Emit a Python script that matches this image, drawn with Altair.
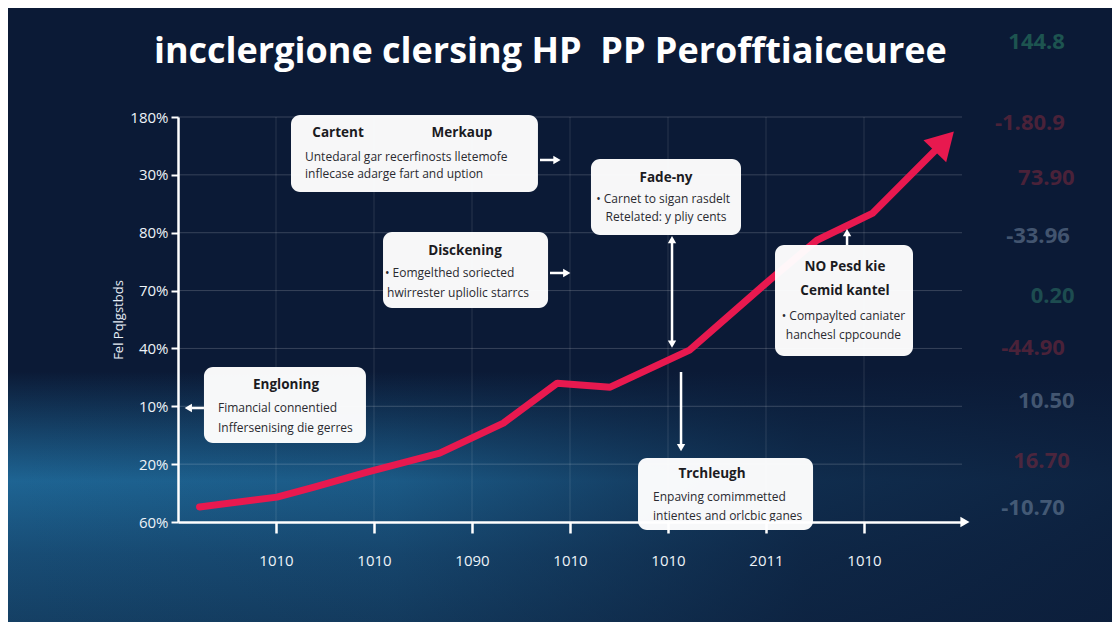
import json
import altair as alt
import pandas as pd

# ---------------- data ----------------
title_text = "incclergione clersing HP\u00a0\u00a0PP Perofftiaiceuree"
y_axis_title = "Fel Pqlgstbds"
y_tick_values = [0, 1, 2, 3, 4, 5, 6, 7]
y_tick_labels = ["60%", "20%", "10%", "40%", "70%", "80%", "30%", "180%"]
x_tick_values = [1, 2, 3, 4, 5, 6, 7]
x_tick_labels = ["1010", "1010", "1090", "1010", "1010", "2011", "1010"]

trend_x = [0.22, 1.01, 1.38, 1.93, 2.67, 3.32, 3.87, 4.41, 5.22, 6.07, 6.52, 7.09, 7.82]
trend_y = [0.26, 0.43, 0.60, 0.86, 1.19, 1.71, 2.40, 2.33, 2.97, 4.23, 4.87, 5.34, 6.58]

# annotation boxes (data coordinates)
box_x1 = [1.153, 4.214, 2.092, 6.092, 0.265, 4.694]
box_x2 = [3.673, 5.745, 3.776, 7.500, 1.918, 6.480]
box_y1 = [7.034, 6.274, 5.012, 4.788, 2.679, 1.106]
box_y2 = [5.704, 4.961, 3.699, 2.869, 1.365, -0.138]

# box headings (bold, centred)
head_text = ["Cartent", "Merkaup", "Fade-ny", "Disckening", "NO Pesd kie", "Cemid kantel", "Engloning", "Trchleugh"]
head_x = [1.633, 2.898, 4.980, 2.929, 6.806, 6.806, 1.102, 5.449]
head_y = [6.724, 6.724, 5.946, 4.684, 4.407, 3.993, 2.368, 0.830]

# body lines, centred
bodyc_text = ["\u2022 Carnet to sigan rasdelt", "Retelated: y pliy cents",
              "\u2022 Compaylted caniater", "hanchesl cppcounde"]
bodyc_x = [4.950, 4.980, 6.790, 6.790]
bodyc_y = [5.583, 5.272, 3.561, 3.232]

# body lines, left aligned
bodyl_text = ["Untedaral gar recerfinosts lletemofe", "inflecase adarge fart and uption",
              "\u2022 Eomgelthed soriected", "hwirrester upliolic starrcs",
              "Fimancial connentied", "Inffersenising die gerres",
              "Enpaving comimmetted", "intientes and orlcbic ganes"]
bodyl_x = [1.296, 1.296, 2.112, 2.133, 0.408, 0.408, 4.847, 4.847]
bodyl_y = [6.309, 6.015, 4.304, 3.958, 1.970, 1.625, 0.432, 0.104]

# white connector arrows
arr_x1 = [3.694, 3.796, 0.265, 5.041, 5.133, 6.827]
arr_x2 = [3.840, 3.940, 0.140, 5.041, 5.133, 6.827]
arr_y1 = [6.257, 4.304, 1.970, 4.830, 2.593, 4.788]
arr_y2 = [6.257, 4.304, 1.970, 3.110, 1.330, 4.960]
head_px = [3.867, 3.967, 0.105, 5.041, 5.041, 5.133, 6.827]
head_py = [6.257, 4.304, 1.970, 4.880, 3.075, 1.285, 5.000]
head_shape = ["triangle-right", "triangle-right", "triangle-left", "triangle-up",
              "triangle-down", "triangle-down", "triangle-up"]

# background ticker figures (decoration)
tick_text = ["144.8", "-1.80.9", "73.90", "-33.96", "0.20", "-44.90", "10.50", "16.70", "-10.70"]
tick_x = [9.05, 9.05, 9.15, 9.10, 9.15, 9.05, 9.15, 9.10, 9.05]
tick_y = [8.3, 6.9, 5.95, 4.95, 3.9, 3.0, 2.1, 1.05, 0.25]
tick_col = ["#2f8f6a", "#8a2a3c", "#8a2a3c", "#7a8fa8", "#2f7f6a", "#8a2a3c", "#7a8fa8", "#8a2a3c", "#7a8fa8"]

# ---------------- frames ----------------
trend = pd.DataFrame({"x": trend_x, "y": trend_y, "o": list(range(len(trend_x)))})
tip = pd.DataFrame({"x": [trend_x[-1]], "y": [trend_y[-1]]})
boxes = pd.DataFrame({"x1": box_x1, "x2": box_x2, "y1": box_y1, "y2": box_y2})
heads = pd.DataFrame({"x": head_x, "y": head_y, "t": head_text})
bodyc = pd.DataFrame({"x": bodyc_x, "y": bodyc_y, "t": bodyc_text})
bodyl = pd.DataFrame({"x": bodyl_x, "y": bodyl_y, "t": bodyl_text})
arrows = pd.DataFrame({"x1": arr_x1, "x2": arr_x2, "y1": arr_y1, "y2": arr_y2})
arrowheads = pd.DataFrame({"x": head_px, "y": head_py, "s": head_shape})
tickers = pd.DataFrame({"x": tick_x, "y": tick_y, "t": tick_text, "c": tick_col})
xaxis_end = pd.DataFrame({"x": [8.03], "y": [0]})
glow = pd.DataFrame({"x1": [-2.0], "x2": [10.0], "y1": [2.6], "y2": [-1.9]})
hgrid = pd.DataFrame({"y": y_tick_values[1:]})
vgrid = pd.DataFrame({"x": x_tick_values})
title_df = pd.DataFrame({"x": [3.80], "y": [8.13], "t": [title_text]})

xs = alt.Scale(domain=[0, 8], nice=False, zero=False)
ys = alt.Scale(domain=[0, 7], nice=False, zero=False)
FONT = "Open Sans"
BG = "#0b1a36"

x_expr = json.dumps(x_tick_labels) + "[datum.value - 1]"
y_expr = json.dumps(y_tick_labels) + "[datum.value]"

X_AX = alt.Axis(
    values=x_tick_values, labelExpr=x_expr, title=None, grid=False, zindex=1,
    domainColor="#ffffff", domainWidth=2.5,
    tickColor="#ffffff", tickWidth=2.5, tickSize=11, labelPadding=20,
    labelColor="#eef3f8", labelFontSize=15, labelFont=FONT)
Y_AX = alt.Axis(
    values=y_tick_values, labelExpr=y_expr, title=y_axis_title, grid=False, zindex=1,
    domainColor="#ffffff", domainWidth=2.5,
    tickColor="#ffffff", tickWidth=2, tickSize=7, labelPadding=3,
    labelColor="#eef3f8", labelFontSize=15, labelFont=FONT,
    titleColor="#e6edf5", titleFontSize=13, titleFontWeight="normal", titleFont=FONT,
    titlePadding=4)


def X(f):
    return alt.X(f, scale=xs, axis=X_AX)


def Y(f):
    return alt.Y(f, scale=ys, axis=Y_AX)


glow_v = alt.Chart(glow).mark_rect(
    color=alt.Gradient(
        gradient="linear", x1=0, x2=0, y1=0, y2=1,
        stops=[alt.GradientStop(color=BG, offset=0),
               alt.GradientStop(color="#1e6594", offset=0.42),
               alt.GradientStop(color="#184d76", offset=0.7),
               alt.GradientStop(color="#143e62", offset=1)],
    ),
).encode(x=X("x1:Q"), x2="x2:Q", y=Y("y1:Q"), y2="y2:Q")

glow_h = alt.Chart(glow).mark_rect(
    color=alt.Gradient(
        gradient="linear", x1=0, x2=1, y1=0, y2=0,
        stops=[alt.GradientStop(color="rgba(11,26,54,0)", offset=0),
               alt.GradientStop(color="rgba(11,26,54,0.15)", offset=0.35),
               alt.GradientStop(color="rgba(11,26,54,0.75)", offset=0.7),
               alt.GradientStop(color="rgba(11,26,54,0.9)", offset=1)],
    ),
).encode(x=X("x1:Q"), x2="x2:Q", y=Y("y1:Q"), y2="y2:Q")

hgrid_mark = alt.Chart(hgrid).mark_rule(color="#ffffff", opacity=0.18, strokeWidth=1).encode(
    y=Y("y:Q"))
vgrid_mark = alt.Chart(vgrid).mark_rule(color="#ffffff", opacity=0.12, strokeWidth=1).encode(
    x=X("x:Q"))

bg_tickers = alt.Chart(tickers).mark_text(
    font=FONT, fontSize=22, fontWeight="bold", align="right", opacity=0.5
).encode(
    x=X("x:Q"), y=Y("y:Q"), text="t:N",
    color=alt.Color("c:N", scale=None),
)

title_mark = alt.Chart(title_df).mark_text(
    font=FONT, fontSize=36, fontWeight="bold", color="#ffffff", align="center", baseline="middle"
).encode(x=X("x:Q"), y=Y("y:Q"), text="t:N")

base = alt.Chart(trend).mark_line(
    color="#e8194f", strokeWidth=7, strokeCap="round", strokeJoin="round"
).encode(x=X("x:Q"), y=Y("y:Q"), order="o:Q")

tip_mark = alt.Chart(tip).mark_point(
    shape="triangle-up", filled=True, color="#e8194f", size=1000, angle=44, opacity=1
).encode(x=X("x:Q"), y=Y("y:Q"))

axis_arrow = alt.Chart(xaxis_end).mark_point(
    shape="triangle-right", filled=True, color="#ffffff", size=110, opacity=1
).encode(x=X("x:Q"), y=Y("y:Q"))

box_mark = alt.Chart(boxes).mark_rect(
    fill="#ffffff", cornerRadius=9, opacity=0.97
).encode(x=X("x1:Q"), x2="x2:Q", y=Y("y1:Q"), y2="y2:Q")

head_mark = alt.Chart(heads).mark_text(
    font=FONT, fontSize=13.5, fontWeight="bold", color="#1b1b1f", align="center", baseline="middle"
).encode(x=X("x:Q"), y=Y("y:Q"), text="t:N")

bodyc_mark = alt.Chart(bodyc).mark_text(
    font=FONT, fontSize=12, color="#2a2a30", align="center", baseline="middle"
).encode(x=X("x:Q"), y=Y("y:Q"), text="t:N")

bodyl_mark = alt.Chart(bodyl).mark_text(
    font=FONT, fontSize=12, color="#2a2a30", align="left", baseline="middle"
).encode(x=X("x:Q"), y=Y("y:Q"), text="t:N")

arrow_mark = alt.Chart(arrows).mark_rule(color="#ffffff", strokeWidth=2.5).encode(
    x=X("x1:Q"), x2="x2:Q", y=Y("y1:Q"), y2="y2:Q",
)

arrowhead_mark = alt.Chart(arrowheads).mark_point(
    filled=True, color="#ffffff", size=70, opacity=1
).encode(
    x=X("x:Q"), y=Y("y:Q"),
    shape=alt.Shape("s:N", scale=None),
)

chart = alt.layer(
    glow_v, glow_h, hgrid_mark, vgrid_mark, bg_tickers, title_mark, base, tip_mark, axis_arrow,
    box_mark, head_mark, bodyc_mark, bodyl_mark, arrow_mark, arrowhead_mark,
).properties(
    width=784, height=405,
    padding={"left": 170, "top": 109, "right": 150, "bottom": 100},
    autosize=alt.AutoSizeParams(type="none"),
    background=BG,
).configure_view(stroke=None)

chart.save("out.html", embed_options={"renderer": "svg", "actions": False})
